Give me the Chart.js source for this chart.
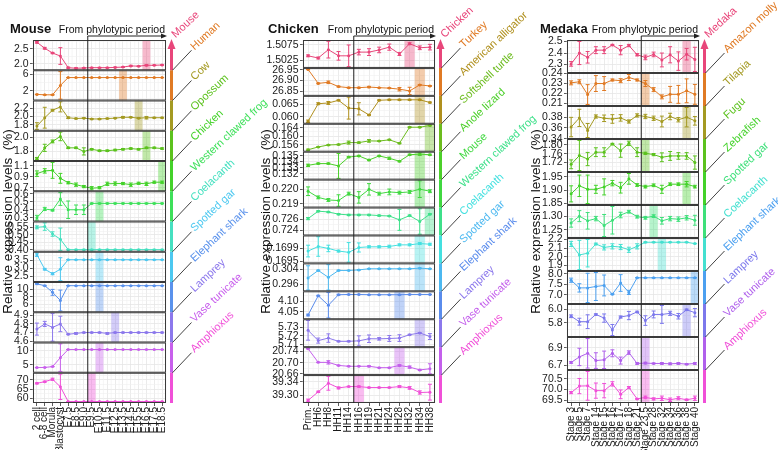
<!DOCTYPE html>
<html>
<head>
<meta charset="utf-8">
<script src="https://cdn.jsdelivr.net/npm/chart.js@4.4.1/dist/chart.umd.min.js"></script>
<style>
  html, body { margin: 0; padding: 0; background: #fff; overflow: hidden; }
  #wrap { position: relative; width: 778px; height: 450px; }
  canvas { position: absolute; left: 0; top: 0; }
</style>
</head>
<body>
<div id="wrap">
  <canvas id="mouseChart" width="778" height="450"></canvas>
  <canvas id="chickenChart" width="778" height="450"></canvas>
  <canvas id="medakaChart" width="778" height="450"></canvas>
</div>
<script>
// ---------- Mouse panel ----------
const mouseStages = ['2 cell', '6-8 cell', 'Morula', 'Blastocyst', 'E7.5', 'E8.5', 'E9.0', 'E9.5', 'E10.5',
  'E11.5', 'E12.5', 'E13.5', 'E14.5', 'E15.5', 'E16.5', 'E17.5', 'E18.5'];
const mouseSpecies = ['Mouse', 'Human', 'Cow', 'Opossum', 'Chicken', 'Western clawed frog', 'Coelacanth',
  'Spotted gar', 'Elephant shark', 'Lamprey', 'Vase tunicate', 'Amphioxus'];
const mouseColors = ['#e8467a', '#e07a24', '#a49a22', '#5cc21e', '#44d22a', '#3ee05a', '#46e0c0',
  '#4cc8f0', '#5a92ec', '#8c78ec', '#c860ec', '#f050d8'];
const mouseMeans = [
  [2.72, 2.52, 2.36, 2.26, 1.87, 1.85, 1.86, 1.87, 1.87, 1.87, 1.88, 1.89, 1.93, 1.92, 1.95, 1.95, 1.96],
  [1.1, 1.0, 1.0, 3.3, 5.2, 5.2, 5.2, 5.2, 5.2, 5.2, 5.2, 5.2, 5.2, 5.2, 5.2, 5.2, 5.2],
  [1.77, 1.97, 2.15, 2.23, 1.97, 1.95, 1.96, 1.94, 1.94, 1.95, 1.96, 1.98, 1.98, 1.96, 1.97, 1.97, 1.97],
  [1.70, 1.85, 1.94, 2.01, 1.85, 1.85, 1.80, 1.83, 1.81, 1.81, 1.82, 1.83, 1.84, 1.83, 1.85, 1.85, 1.84],
  [0.955, 1.005, 1.015, 0.87, 0.79, 0.755, 0.72, 0.69, 0.70, 0.77, 0.775, 0.775, 0.755, 0.78, 0.77, 0.80, 0.80],
  [0.30, 0.41, 0.395, 0.535, 0.40, 0.40, 0.40, 0.48, 0.48, 0.48, 0.48, 0.48, 0.48, 0.48, 0.48, 0.48, 0.48],
  [0.55, 0.555, 0.505, 0.47, 0.40, 0.40, 0.40, 0.40, 0.40, 0.40, 0.40, 0.40, 0.40, 0.40, 0.40, 0.40, 0.40],
  [3.82, 2.94, 2.66, 2.94, 3.52, 3.52, 3.52, 3.52, 3.52, 3.52, 3.52, 3.52, 3.52, 3.52, 3.52, 3.52, 3.52],
  [11.5, 11.0, 9.2, 7.0, 11.0, 11.0, 11.0, 11.0, 11.0, 11.0, 11.0, 11.0, 11.0, 11.0, 11.0, 11.0, 11.0],
  [4.74, 4.80, 4.76, 4.80, 4.68, 4.69, 4.70, 4.70, 4.70, 4.69, 4.70, 4.70, 4.70, 4.70, 4.70, 4.70, 4.70],
  [3.95, 4.0, 4.3, 7.5, 10.4, 10.4, 10.4, 10.4, 10.4, 10.4, 10.4, 10.4, 10.4, 10.4, 10.4, 10.4, 10.4],
  [68.1, 69.0, 70.3, 66.2, 58.2, 58.2, 58.2, 58.2, 58.2, 58.2, 58.2, 58.2, 58.2, 58.2, 58.2, 58.2, 58.2]
];
const mouseErrors = [
  [0.03, 0.03, 0.02, 0.28, 0.02, 0.02, 0.01, 0.01, 0.01, 0.01, 0.01, 0.01, 0.02, 0.01, 0.02, 0.01, 0.01],
  [0.05, 0.03, 0.03, 3.35, 0.03, 0.02, 0.02, 0.02, 0.02, 0.02, 0.02, 0.02, 0.02, 0.02, 0.02, 0.02, 0.02],
  [0.08, 0.25, 0.02, 0.12, 0.02, 0.01, 0.01, 0.01, 0.01, 0.01, 0.01, 0.02, 0.01, 0.01, 0.03, 0.01, 0.01],
  [0.015, 0.05, 0.02, 0.06, 0.01, 0.01, 0.05, 0.01, 0.01, 0.01, 0.01, 0.01, 0.01, 0.01, 0.01, 0.01, 0.01],
  [0.05, 0.04, 0.145, 0.09, 0.02, 0.03, 0.02, 0.03, 0.02, 0.03, 0.03, 0.02, 0.03, 0.02, 0.03, 0.02, 0.02],
  [0.03, 0.02, 0.01, 0.08, 0.11, 0.06, 0.06, 0.005, 0.005, 0.005, 0.005, 0.005, 0.005, 0.005, 0.005, 0.005, 0.005],
  [0.01, 0.025, 0.015, 0.075, 0.002, 0.002, 0.002, 0.002, 0.002, 0.002, 0.002, 0.002, 0.002, 0.002, 0.002, 0.002, 0.002],
  [0.1, 0.05, 0.06, 0.7, 0.01, 0.01, 0.01, 0.01, 0.01, 0.01, 0.01, 0.01, 0.01, 0.01, 0.01, 0.01, 0.01],
  [0.12, 0.1, 0.8, 2.8, 0.02, 0.02, 0.02, 0.02, 0.02, 0.02, 0.02, 0.02, 0.02, 0.02, 0.02, 0.02, 0.02],
  [0.07, 0.03, 0.16, 0.09, 0.005, 0.01, 0.005, 0.005, 0.005, 0.01, 0.005, 0.005, 0.005, 0.005, 0.005, 0.005, 0.005],
  [0.05, 0.05, 0.05, 4.9, 0.02, 0.02, 0.02, 0.02, 0.02, 0.02, 0.02, 0.02, 0.02, 0.02, 0.02, 0.02, 0.02],
  [0.3, 0.3, 0.6, 6.9, 0.05, 0.05, 0.05, 0.05, 0.05, 0.05, 0.05, 0.05, 0.05, 0.05, 0.05, 0.05, 0.05]
];
const mouseTicks = [['2.0', '2.5'], ['2', '6'], ['1.8', '2.0', '2.2'], ['1.8', '2.0'], ['0.7', '0.9', '1.1'],
  ['0.3', '0.4', '0.5', '0.6'], ['0.40', '0.45', '0.50', '0.55'], ['2.5', '3.0', '3.5'], ['6', '8', '10'],
  ['4.6', '4.7', '4.8', '4.9'], ['5', '10'], ['60', '65', '70']];
const mouseBands = [14, 11, 13, 14, 16, 8, 7, 8, 8, 10, 8, 7];
const mousePhylo = 7;   // first stage of the phylotypic period

// ---------- Chicken panel ----------
const chickenStages = ['Prim.', 'HH6', 'HH8', 'HH11', 'HH14', 'HH16', 'HH19', 'HH21', 'HH24', 'HH28', 'HH32', 'HH34', 'HH38'];
const chickenSpecies = ['Chicken', 'Turkey', 'American alligator', 'Softshell turtle', 'Anole lizard', 'Mouse',
  'Western clawed frog', 'Coelacanth', 'Spotted gar', 'Elephant shark', 'Lamprey', 'Vase tunicate', 'Amphioxus'];
const chickenColors = ['#e8467a', '#e07a24', '#b0901e', '#6cbc1e', '#4cd02a', '#40d840', '#3ee08a',
  '#44e0e0', '#4cb8f0', '#5a8cec', '#8c78ec', '#c460ec', '#f050d8'];
const chickenMeans = [
  [1.5039, 1.5032, 1.5059, 1.5039, 1.5039, 1.5051, 1.5051, 1.5058, 1.5067, 1.5045, 1.5078, 1.5065, 1.5067],
  [26.952, 26.887, 26.892, 26.872, 26.867, 26.867, 26.870, 26.867, 26.865, 26.860, 26.852, 26.880, 26.875],
  [0.0581, 0.0653, 0.0656, 0.0667, 0.0635, 0.0632, 0.0607, 0.0667, 0.0669, 0.0669, 0.0669, 0.0669, 0.0658],
  [0.1538, 0.1551, 0.1560, 0.1562, 0.1571, 0.1571, 0.1579, 0.1578, 0.1584, 0.1568, 0.1642, 0.1642, 0.1650],
  [0.1334, 0.1337, 0.1337, 0.1333, 0.1348, 0.1350, 0.1343, 0.1350, 0.1346, 0.1341, 0.1352, 0.1353, 0.1352],
  [0.21987, 0.21944, 0.21926, 0.21922, 0.21970, 0.21944, 0.22000, 0.21970, 0.21982, 0.21977, 0.21982, 0.22001, 0.21987],
  [0.72613, 0.72747, 0.72733, 0.72693, 0.72680, 0.72680, 0.72680, 0.72667, 0.72660, 0.72590, 0.72667, 0.72560, 0.72693],
  [0.16982, 0.16996, 0.16990, 0.16982, 0.16978, 0.16993, 0.16995, 0.16995, 0.16996, 0.17001, 0.17001, 0.17005, 0.17003],
  [0.2993, 0.3033, 0.2996, 0.3033, 0.3033, 0.3036, 0.3042, 0.3042, 0.3042, 0.3042, 0.3042, 0.3045, 0.3042],
  [4.034, 4.125, 4.080, 4.130, 4.131, 4.131, 4.130, 4.130, 4.130, 4.130, 4.131, 4.131, 4.131],
  [5.7265, 5.7143, 5.7173, 5.7134, 5.7134, 5.7140, 5.7165, 5.7164, 5.7168, 5.7173, 5.7213, 5.7234, 5.7191],
  [20.750, 20.701, 20.701, 20.690, 20.687, 20.687, 20.687, 20.682, 20.682, 20.690, 20.684, 20.674, 20.678],
  [39.284, 39.310, 39.336, 39.322, 39.326, 39.326, 39.323, 39.323, 39.323, 39.326, 39.322, 39.308, 39.309]
];
const chickenErrors = [
  [0.0003, 0.0003, 0.0027, 0.0014, 0.0035, 0.0009, 0.0011, 0.0009, 0.001, 0.0005, 0.0003, 0.0006, 0.0009],
  [0.001, 0.002, 0.006, 0.002, 0.002, 0.002, 0.003, 0.001, 0.001, 0.008, 0.017, 0.002, 0.002],
  [0.0005, 0.0004, 0.0006, 0.0002, 0.0045, 0.0025, 0.0002, 0.0002, 0.0002, 0.0002, 0.0002, 0.0002, 0.0002],
  [0.0003, 0.0002, 0.0002, 0.0002, 0.0007, 0.0003, 0.0006, 0.0002, 0.0002, 0.0002, 0.0002, 0.0002, 0.0002],
  [0.0002, 0.0001, 0.0001, 0.0021, 0.0001, 0.0001, 0.0001, 0.0001, 0.0002, 0.0001, 0.0001, 0.0002, 0.0001],
  [0.0003, 0.0001, 0.0001, 0.0004, 0.0001, 0.0004, 0.0004, 0.0001, 0.0002, 0.0001, 0.0001, 0.00058, 0.0001],
  [0.0002, 0.0001, 0.0001, 0.0001, 0.0001, 0.0001, 0.0001, 0.0001, 0.0001, 0.0019, 0.0001, 0.0023, 0.0001],
  [0.00018, 0.0003, 0.0001, 0.00003, 0.0003, 0.00014, 0.00003, 0.00003, 0.00004, 0.00003, 0.00003, 0.00003, 0.00003],
  [0.0065, 0.0002, 0.0068, 0.0002, 0.0001, 0.0002, 0.0001, 0.0001, 0.0001, 0.0001, 0.0001, 0.0001, 0.0001],
  [0.004, 0.002, 0.06, 0.002, 0.001, 0.001, 0.001, 0.001, 0.001, 0.001, 0.001, 0.001, 0.001],
  [0.0117, 0.003, 0.005, 0.0005, 0.0005, 0.006, 0.0045, 0.0015, 0.0035, 0.004, 0.0005, 0.0005, 0.0035],
  [0.001, 0.001, 0.006, 0.001, 0.001, 0.001, 0.002, 0.001, 0.001, 0.003, 0.004, 0.002, 0.018],
  [0.004, 0.002, 0.021, 0.003, 0.001, 0.002, 0.001, 0.001, 0.001, 0.003, 0.004, 0.005, 0.024]
];
const chickenTicks = [['1.5025', '1.5075'], ['26.85', '26.90', '26.95'], ['0.060', '0.065'],
  ['0.156', '0.160', '0.164'], ['0.132', '0.133', '0.134', '0.135'], ['0.219', '0.220'], ['0.724', '0.726'],
  ['0.1695', '0.1699', '0.1703'], ['0.296', '0.304'], ['4.05', '4.10'], ['5.71', '5.72', '5.73'],
  ['20.66', '20.70', '20.74'], ['39.30', '39.34']];
const chickenBands = [10, 11, 11, 12, 11, 11, 12, 11, 11, 9, 11, 9, 5];
const chickenPhylo = 5;

// ---------- Medaka panel ----------
const medakaStages = ['Stage 3', 'Stage 5', 'Stage 7', 'Stage 14', 'Stage 15', 'Stage 16', 'Stage 17', 'Stage 18',
  'Stage 21', 'Stage 23.5', 'Stage 28', 'Stage 32', 'Stage 34', 'Stage 36', 'Stage 38', 'Stage 40'];
const medakaSpecies = ['Medaka', 'Amazon molly', 'Tilapia', 'Fugu', 'Zebrafish', 'Spotted gar', 'Coelacanth',
  'Elephant shark', 'Lamprey', 'Vase tunicate', 'Amphioxus'];
const medakaColors = ['#e8467a', '#e07a24', '#a49a22', '#5cc21e', '#44d22a', '#3ee07a', '#44e0d0',
  '#4ca0f0', '#7c78ec', '#b060ec', '#f050d8'];
const medakaMeans = [
  [2.306, 2.40, 2.363, 2.425, 2.425, 2.47, 2.425, 2.465, 2.385, 2.362, 2.388, 2.34, 2.385, 2.33, 2.39, 2.345],
  [0.2307, 0.2318, 0.2189, 0.2300, 0.2300, 0.2336, 0.2329, 0.2361, 0.2336, 0.2300, 0.2239, 0.2166, 0.2191, 0.2191, 0.2227, 0.2191],
  [0.3617, 0.3787, 0.3553, 0.3813, 0.3780, 0.3767, 0.3787, 0.3720, 0.3833, 0.3813, 0.3780, 0.3720, 0.3813, 0.3753, 0.3800, 0.3733],
  [1.712, 1.752, 1.736, 1.767, 1.767, 1.804, 1.774, 1.807, 1.767, 1.762, 1.756, 1.744, 1.750, 1.750, 1.750, 1.720],
  [1.886, 1.916, 1.903, 1.903, 1.912, 1.926, 1.909, 1.942, 1.919, 1.913, 1.918, 1.903, 1.922, 1.922, 1.922, 1.913],
  [1.275, 1.300, 1.283, 1.291, 1.266, 1.285, 1.304, 1.316, 1.298, 1.294, 1.300, 1.283, 1.291, 1.289, 1.294, 1.285],
  [2.148, 2.020, 2.040, 2.148, 2.108, 2.120, 2.112, 2.080, 2.120, 2.168, 2.168, 2.168, 2.168, 2.168, 2.168, 2.152],
  [7.70, 7.333, 7.333, 7.40, 7.45, 7.033, 7.567, 7.117, 7.817, 7.817, 7.817, 7.817, 7.817, 7.817, 7.817, 7.817],
  [5.895, 5.816, 5.816, 5.921, 5.868, 5.695, 5.884, 5.905, 5.958, 5.832, 5.921, 5.921, 5.937, 5.895, 5.989, 5.947],
  [6.733, 6.796, 6.838, 6.754, 6.763, 6.838, 6.754, 6.846, 6.721, 6.725, 6.721, 6.721, 6.717, 6.721, 6.713, 6.721],
  [69.86, 70.16, 70.17, 69.95, 69.95, 70.26, 69.78, 70.09, 69.57, 69.64, 69.57, 69.60, 69.53, 69.60, 69.53, 69.60]
];
const medakaErrors = [
  [0.02, 0.1, 0.05, 0.03, 0.03, 0.005, 0.04, 0.01, 0.01, 0.02, 0.02, 0.06, 0.07, 0.08, 0.05, 0.105],
  [0.002, 0.002, 0.01, 0.008, 0.007, 0.001, 0.002, 0.003, 0.001, 0.003, 0.002, 0.002, 0.008, 0.009, 0.012, 0.01],
  [0.018, 0.016, 0.013, 0.003, 0.006, 0.008, 0.006, 0.003, 0.003, 0.004, 0.004, 0.01, 0.006, 0.004, 0.018, 0.008],
  [0.02, 0.068, 0.03, 0.02, 0.02, 0.003, 0.03, 0.01, 0.02, 0.005, 0.005, 0.02, 0.02, 0.015, 0.015, 0.03],
  [0.03, 0.04, 0.053, 0.015, 0.03, 0.01, 0.02, 0.02, 0.005, 0.005, 0.005, 0.015, 0.005, 0.005, 0.01, 0.005],
  [0.015, 0.02, 0.03, 0.008, 0.04, 0.05, 0.01, 0.005, 0.005, 0.005, 0.005, 0.012, 0.008, 0.008, 0.008, 0.018],
  [0.03, 0.17, 0.16, 0.01, 0.03, 0.03, 0.03, 0.03, 0.03, 0.005, 0.003, 0.003, 0.003, 0.003, 0.003, 0.003],
  [0.1, 0.2, 0.7, 0.67, 0.5, 0.02, 0.4, 0.1, 0.01, 0.01, 0.01, 0.01, 0.01, 0.01, 0.01, 0.01],
  [0.02, 0.05, 0.1, 0.01, 0.06, 0.08, 0.015, 0.06, 0.01, 0.07, 0.05, 0.13, 0.03, 0.04, 0.01, 0.06],
  [0.01, 0.1, 0.17, 0.09, 0.1, 0.04, 0.04, 0.02, 0.01, 0.01, 0.005, 0.01, 0.01, 0.01, 0.005, 0.01],
  [0.05, 0.35, 0.66, 0.35, 0.33, 0.1, 0.2, 0.05, 0.02, 0.06, 0.05, 0.1, 0.08, 0.07, 0.03, 0.1]
];
const medakaTicks = [['2.3', '2.4', '2.5'], ['0.21', '0.22', '0.23', '0.24'], ['0.34', '0.36', '0.38'],
  ['1.72', '1.76', '1.80'], ['1.85', '1.90', '1.95'], ['1.25', '1.30'], ['1.9', '2.0', '2.1', '2.2'],
  ['7.0', '7.5', '8.0'], ['5.8', '6.0'], ['6.7', '6.9'], ['69.5', '70.0', '70.5']];
const medakaBands = [14, 9, 14, 9, 14, 10, 11, 15, 14, 9, 9];
const medakaPhylo = 9;

const FONT = '"Liberation Sans", Arial, Helvetica, sans-serif';
Chart.defaults.font.family = FONT;

function withAlpha(hex, a) {
  const n = parseInt(hex.slice(1), 16);
  return 'rgba(' + (n >> 16) + ',' + ((n >> 8) & 255) + ',' + (n & 255) + ',' + a + ')';
}

// ggplot-like range: data incl. error bars, expanded by 5%
function valueRange(means, errs) {
  let lo = Infinity, hi = -Infinity;
  means.forEach((v, i) => {
    lo = Math.min(lo, v - errs[i]);
    hi = Math.max(hi, v + errs[i]);
  });
  const pad = (hi - lo) * 0.05;
  return [lo - pad, hi + pad];
}

// labelled major ticks plus unlabelled minor ticks halfway between them
function tickList(labels, lo, hi) {
  const vals = labels.map(Number);
  const step = vals.length > 1 ? vals[1] - vals[0] : hi - lo;
  const out = vals.map((v, i) => ({ value: v, txt: labels[i] }));
  for (let k = -1; k < vals.length; k++) {
    out.push({ value: vals[0] + (k + 0.5) * step, txt: '' });
  }
  return out.filter(t => t.value >= lo && t.value <= hi).sort((a, b) => a.value - b.value);
}

function makeDecor(p) {
  return {
    id: 'decor' + p.title,
    beforeDatasetsDraw(chart) {
      const { ctx, chartArea: a } = chart;
      const x = chart.scales.x;
      ctx.save();
      // minor vertical grid between stages
      ctx.strokeStyle = '#f0f0f0';
      ctx.lineWidth = 0.6;
      for (let i = 0; i <= p.stages.length; i++) {
        const px = x.getPixelForValue(i - 0.5);
        ctx.beginPath();
        ctx.moveTo(px, a.top);
        ctx.lineTo(px, a.bottom);
        ctx.stroke();
      }
      // highlighted stage of each species
      p.bands.forEach((b, i) => {
        const y = chart.scales['y' + i];
        const x0 = x.getPixelForValue(b - 0.5);
        const x1 = x.getPixelForValue(b + 0.5);
        ctx.fillStyle = withAlpha(p.colors[i], 0.38);
        ctx.fillRect(x0, y.top, x1 - x0, y.bottom - y.top);
      });
      ctx.restore();
    },
    afterDatasetsDraw(chart) {
      const { ctx, chartArea: a } = chart;
      const x = chart.scales.x;
      ctx.save();

      // error bars
      p.means.forEach((row, i) => {
        const y = chart.scales['y' + i];
        ctx.strokeStyle = p.colors[i];
        ctx.lineWidth = 1;
        row.forEach((v, j) => {
          const e = p.errors[i][j];
          const px = x.getPixelForValue(j);
          const yt = y.getPixelForValue(v + e);
          const yb = y.getPixelForValue(v - e);
          ctx.beginPath();
          ctx.moveTo(px, yt); ctx.lineTo(px, yb);
          ctx.moveTo(px - 2, yt); ctx.lineTo(px + 2, yt);
          ctx.moveTo(px - 2, yb); ctx.lineTo(px + 2, yb);
          ctx.stroke();
        });
      });

      // panel borders
      ctx.strokeStyle = '#3a3a3a';
      ctx.lineWidth = 1;
      p.species.forEach((s, i) => {
        const y = chart.scales['y' + i];
        ctx.strokeRect(a.left + 0.5, y.top + 0.5, a.right - a.left - 1, y.bottom - y.top - 1);
      });

      // phylotypic period marker
      const px = x.getPixelForValue(p.phylo - 0.5);
      const hy = a.top - 4;
      ctx.strokeStyle = '#222';
      ctx.beginPath();
      ctx.moveTo(px, a.bottom);
      ctx.lineTo(px, hy);
      ctx.lineTo(a.right - 2, hy);
      ctx.stroke();
      ctx.fillStyle = '#222';
      ctx.beginPath();
      ctx.moveTo(a.right + 1, hy);
      ctx.lineTo(a.right - 5, hy - 2.5);
      ctx.lineTo(a.right - 5, hy + 2.5);
      ctx.closePath();
      ctx.fill();

      ctx.fillStyle = '#111';
      ctx.textBaseline = 'alphabetic';
      ctx.textAlign = 'right';
      ctx.font = '10.5px ' + FONT;
      ctx.fillText('From phylotypic period', a.right - 1, hy - 3);
      ctx.textAlign = 'left';
      ctx.font = 'bold 13px ' + FONT;
      ctx.fillText(p.title, p.titleX, 32.5);

      // y title
      ctx.save();
      ctx.translate(p.yTitleX, (a.top + a.bottom) / 2);
      ctx.rotate(-Math.PI / 2);
      ctx.font = '13.5px ' + FONT;
      ctx.textAlign = 'center';
      ctx.textBaseline = 'middle';
      ctx.fillText('Relative expression levels  (%)', 0, 0);
      ctx.restore();

      // colour bar with arrow
      const bx = a.right + 5.5;
      p.species.forEach((s, i) => {
        const y = chart.scales['y' + i];
        ctx.strokeStyle = p.colors[i];
        ctx.lineWidth = 3;
        ctx.beginPath();
        ctx.moveTo(bx, i === 0 ? a.top + 8 : y.top);
        ctx.lineTo(bx, y.bottom);
        ctx.stroke();
      });
      ctx.fillStyle = p.colors[0];
      ctx.beginPath();
      ctx.moveTo(bx, a.top - 1);
      ctx.lineTo(bx - 4, a.top + 9);
      ctx.lineTo(bx + 4, a.top + 9);
      ctx.closePath();
      ctx.fill();

      // species labels
      ctx.font = '11px ' + FONT;
      ctx.textAlign = 'left';
      ctx.textBaseline = 'middle';
      p.species.forEach((s, i) => {
        const y = chart.scales['y' + i];
        let lx, ly;
        if (i === 0) {
          lx = bx + 2; ly = a.top - 4;
        } else {
          ctx.strokeStyle = '#111';
          ctx.lineWidth = 0.8;
          ctx.beginPath();
          ctx.moveTo(bx + 1, y.top);
          ctx.lineTo(bx + 20, y.top - 20);
          ctx.stroke();
          lx = bx + 21; ly = y.top - 22;
        }
        ctx.save();
        ctx.translate(lx, ly);
        ctx.rotate(-43 * Math.PI / 180);
        ctx.fillStyle = p.colors[i];
        ctx.fillText(s, 0, 0);
        ctx.restore();
      });

      ctx.restore();
    }
  };
}

function buildPanel(canvasId, p) {
  const scales = {
    x: {
      type: 'category',
      offset: true,
      border: { display: false },
      grid: { offset: false, color: '#e6e6e6', lineWidth: 0.8, tickLength: 3, tickColor: '#333' },
      ticks: { autoSkip: false, minRotation: 90, maxRotation: 90, padding: 1, color: '#1a1a1a', font: { size: 10 } },
      afterFit: s => { s.height = p.xHeight; }
    }
  };
  p.species.forEach((sp, i) => {
    const [lo, hi] = valueRange(p.means[i], p.errors[i]);
    scales['y' + i] = {
      type: 'linear',
      axis: 'y',
      position: 'left',
      stack: 'rows',
      stackWeight: 1,
      weight: p.species.length - i,
      min: lo,
      max: hi,
      border: { display: false },
      grid: {
        color: c => (c.tick && c.tick.txt ? '#e6e6e6' : '#f0f0f0'),
        lineWidth: c => (c.tick && c.tick.txt ? 0.8 : 0.6),
        tickLength: 3,
        tickColor: c => (c.tick && c.tick.txt ? '#333' : 'rgba(0,0,0,0)')
      },
      ticks: {
        autoSkip: false,
        padding: 1.5,
        color: '#1a1a1a',
        font: { size: 10.5 },
        callback: (v, idx, arr) => arr[idx].txt
      },
      afterBuildTicks: s => { s.ticks = tickList(p.ticks[i], lo, hi); },
      afterFit: s => { s.width = p.yWidth; }
    };
  });

  return new Chart(document.getElementById(canvasId), {
    type: 'line',
    data: {
      labels: p.stages,
      datasets: p.means.map((row, i) => ({
        label: p.species[i],
        data: row,
        yAxisID: 'y' + i,
        borderColor: p.colors[i],
        backgroundColor: p.colors[i],
        borderWidth: 1,
        pointRadius: 1.5,
        pointBorderWidth: 0,
        tension: 0
      }))
    },
    options: {
      responsive: false,
      animation: false,
      devicePixelRatio: 1,
      layout: { padding: { left: p.boxLeft - p.yWidth, right: 778 - p.boxRight, top: 40, bottom: 450 - 403 - p.xHeight } },
      plugins: { legend: { display: false }, tooltip: { enabled: false } },
      scales
    },
    plugins: [makeDecor(p)]
  });
}

buildPanel('mouseChart', {
  title: 'Mouse', stages: mouseStages, species: mouseSpecies, colors: mouseColors, means: mouseMeans,
  errors: mouseErrors, ticks: mouseTicks, bands: mouseBands, phylo: mousePhylo,
  boxLeft: 33, boxRight: 166, yWidth: 30, xHeight: 46, titleX: 10, yTitleX: 8
});
buildPanel('chickenChart', {
  title: 'Chicken', stages: chickenStages, species: chickenSpecies, colors: chickenColors, means: chickenMeans,
  errors: chickenErrors, ticks: chickenTicks, bands: chickenBands, phylo: chickenPhylo,
  boxLeft: 303, boxRight: 435, yWidth: 40, xHeight: 32, titleX: 268, yTitleX: 266
});
buildPanel('medakaChart', {
  title: 'Medaka', stages: medakaStages, species: medakaSpecies, colors: medakaColors, means: medakaMeans,
  errors: medakaErrors, ticks: medakaTicks, bands: medakaBands, phylo: medakaPhylo,
  boxLeft: 567, boxRight: 699, yWidth: 40, xHeight: 47, titleX: 540, yTitleX: 536
});
</script>
</body>
</html>
